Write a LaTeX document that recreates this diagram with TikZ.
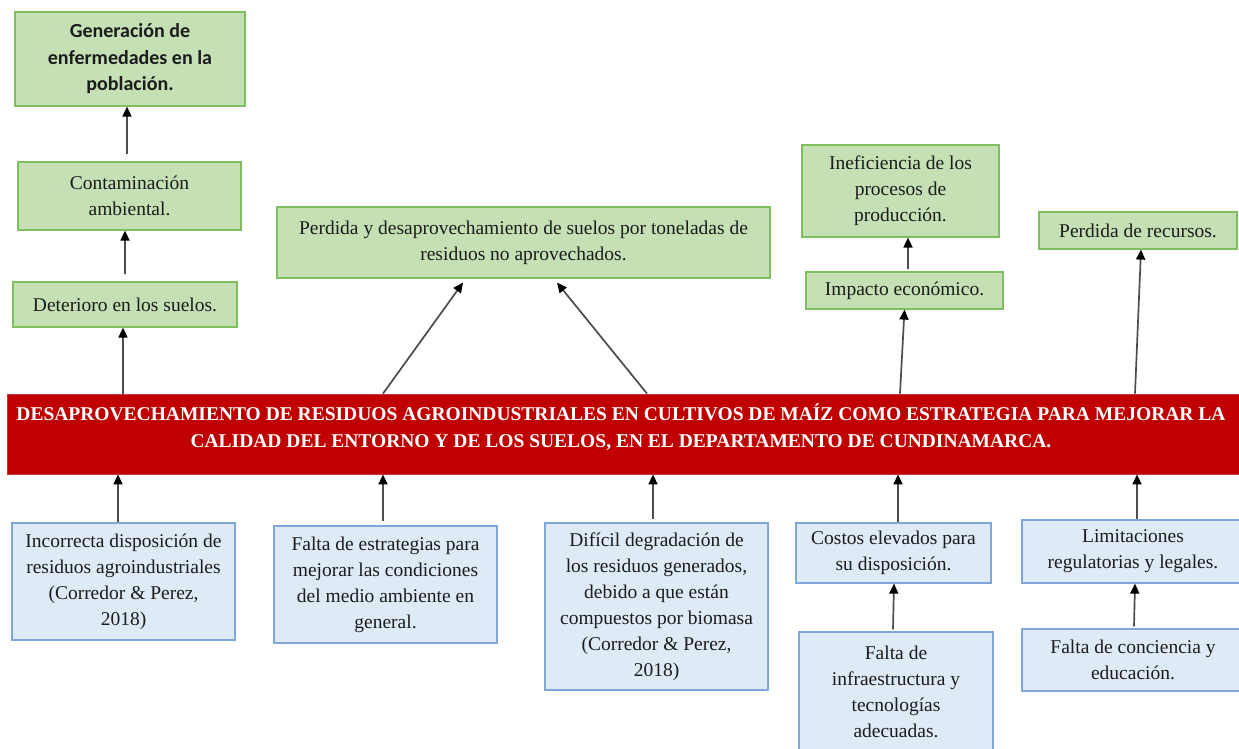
\documentclass[tikz,border=0pt]{standalone}
\usepackage{fontspec}
\setmainfont{Liberation Serif}
\newfontfamily\calib{Carlito}
\usetikzlibrary{arrows.meta}
\definecolor{gfill}{HTML}{C5E0B4}
\definecolor{gdraw}{HTML}{7FBF5F}
\definecolor{bfill}{HTML}{DEEBF7}
\definecolor{bdraw}{HTML}{7FA7DC}
\definecolor{redbar}{HTML}{C00000}
\definecolor{txt}{HTML}{1C1C1C}
\tikzset{
  box/.style={draw, line width=1.2pt, inner sep=0pt, align=center,
    font=\fontsize{19.5}{26}\selectfont, text=txt},
  gbox/.style={box, fill=gfill, draw=gdraw},
  bbox/.style={box, fill=bfill, draw=bdraw},
  arr/.style={draw=black!70, line width=1.7pt,
    -{Triangle[length=10pt,width=9pt,color=black]}},
}
\begin{document}
\begin{tikzpicture}[x=1pt,y=-1pt]
\useasboundingbox (0,0) rectangle (1239,748);
\clip (0,0) rectangle (1239,748);
\fill[white] (0,0) rectangle (1239,748);
% top (green) boxes
\node[gbox, minimum width=230pt, minimum height=94pt, font=\calib\bfseries\fontsize{20}{26.5}\selectfont] (gen) at (130,59) {Generación de\\enfermedades en la\\población.};
\node[gbox, minimum width=223pt, minimum height=68pt] (cont) at (129.5,196) {Contaminación\\ambiental.};
\node[gbox, minimum width=224pt, minimum height=45pt] (det) at (125,304.5) {Deterioro en los suelos.};
\node[gbox, minimum width=493pt, minimum height=71pt] (perd) at (523.5,242.5) {Perdida y desaprovechamiento de suelos por toneladas de\\residuos no aprovechados.};
\node[gbox, minimum width=197pt, minimum height=92pt] (inef) at (900.5,191) {Ineficiencia de los\\procesos de\\producción.};
\node[gbox, minimum width=197pt, minimum height=37pt] (imp) at (904.5,290.5) {Impacto económico.};
\node[gbox, minimum width=198pt, minimum height=37pt] (rec) at (1138,230.5) {Perdida de recursos.};
% central bar
\node[draw=redbar!80, fill=redbar, line width=0.8pt, inner sep=0pt, minimum width=1238pt, minimum height=80pt] (bar) at (626,434) {};
\node[text=white, align=center, font=\bfseries\fontsize{19.5}{27}\selectfont] (bartext) at (621,427) {DESAPROVECHAMIENTO DE RESIDUOS AGROINDUSTRIALES EN CULTIVOS DE MAÍZ COMO ESTRATEGIA PARA MEJORAR LA\\CALIDAD DEL ENTORNO Y DE LOS SUELOS, EN EL DEPARTAMENTO DE CUNDINAMARCA.};
% bottom (blue) boxes
\node[bbox, minimum width=223pt, minimum height=117pt] (inc) at (123.5,581.5) {Incorrecta disposición de\\residuos agroindustriales\\(Corredor \& Perez,\\2018)};
\node[bbox, minimum width=223pt, minimum height=117pt] (fest) at (385.5,584.5) {Falta de estrategias para\\mejorar las condiciones\\del medio ambiente en\\general.};
\node[bbox, minimum width=223pt, minimum height=167pt] (dif) at (656.5,606.5) {Difícil degradación de\\los residuos generados,\\debido a que están\\compuestos por biomasa\\(Corredor \& Perez,\\2018)};
\node[bbox, minimum width=195pt, minimum height=60pt] (cost) at (893.5,553) {Costos elevados para\\su disposición.};
\node[bbox, minimum width=194pt, minimum height=120pt] (infra) at (896,692) {Falta de\\infraestructura y\\tecnologías\\adecuadas.};
\node[bbox, minimum width=222pt, minimum height=63pt] (lim) at (1133,551.5) {Limitaciones\\regulatorias y legales.};
\node[bbox, minimum width=222pt, minimum height=62pt] (conc) at (1133,660) {Falta de conciencia y\\educación.};
% arrows (top)
\draw[arr] ([xshift=-2.5pt,yshift=7pt]cont.north) -- ([xshift=-3pt]gen.south);
\draw[arr] ([yshift=7pt]det.north) -- ([xshift=-4.5pt]cont.south);
\draw[arr] ([xshift=-2pt]det.south |- bar.north) -- ([xshift=-2pt]det.south);
\draw[arr] ([xshift=-140.5pt]perd.south |- bar.north) -- ([xshift=-60.5pt,yshift=-4pt]perd.south);
\draw[arr] ([xshift=123.5pt]perd.south |- bar.north) -- ([xshift=33.5pt,yshift=-4pt]perd.south);
\draw[arr] ([xshift=3.5pt,yshift=2pt]imp.north) -- ([xshift=7.5pt]inef.south);
\draw[arr] ([xshift=-4.5pt]imp.south |- bar.north) -- (imp.south);
\draw[arr] ([xshift=-3pt]rec.south |- bar.north) -- ([xshift=3pt]rec.south);
% arrows (bottom)
\draw[arr] ([xshift=-5.5pt]inc.north) -- ([xshift=-5.5pt]inc.north |- bar.south);
\draw[arr] ([xshift=-2.5pt,yshift=4pt]fest.north) -- ([xshift=-2.5pt]fest.north |- bar.south);
\draw[arr] ([xshift=-3.5pt,yshift=3pt]dif.north) -- ([xshift=-3.5pt]dif.north |- bar.south);
\draw[arr] ([xshift=4.5pt]cost.north) -- ([xshift=4.5pt]cost.north |- bar.south);
\draw[arr] ([xshift=-3pt,yshift=2pt]infra.north) -- ([xshift=0.5pt]cost.south);
\draw[arr] ([xshift=4pt]lim.north) -- ([xshift=4pt]lim.north |- bar.south);
\draw[arr] ([xshift=1pt,yshift=2pt]conc.north) -- ([xshift=2pt]lim.south);
\end{tikzpicture}
\end{document}
